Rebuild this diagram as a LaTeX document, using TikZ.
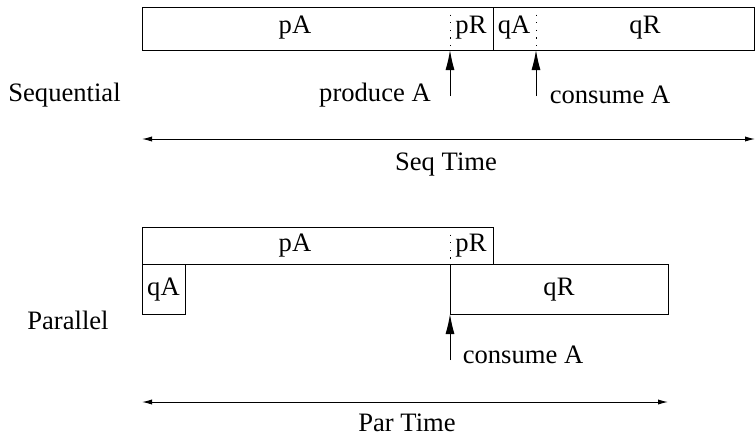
\documentclass[tikz,border=0pt]{standalone}
\usepackage{fontspec}
\setmainfont{Liberation Serif}
\usetikzlibrary{arrows.meta}
\begin{document}
\begin{tikzpicture}[x=0.5pt,y=-0.5pt,
  every node/.style={font=\fontsize{13.3}{16}\selectfont, inner sep=0pt},
  bar/.style={draw, line width=0.5pt},
  split/.style={line width=0.5pt, dash pattern=on 0.6pt off 3.2pt},
  mark arrow/.style={line width=0.5pt, -{Latex[length=10pt,width=4.5pt]}},
  span arrow/.style={line width=0.5pt, {Latex[length=5pt,width=2.6pt]}-{Latex[length=5pt,width=2.6pt]}}]
\useasboundingbox (0,0) rectangle (755,435);

% ---- sequential run ----
\draw[bar] (142,7) rectangle (754,50);
\draw[line width=0.5pt] (493,7) -- (493,50);
\draw[split] (450,7) -- (450,50);
\draw[split] (536,7) -- (536,50);
\node (spA) at (295,28) {pA};
\node (spR) at (471,28) {pR};
\node (sqA) at (514,28) {qA};
\node (sqR) at (645,28) {qR};
\coordinate (sprod) at (450,50);
\coordinate (scons) at (536,50);
\coordinate (sprodfoot) at (450,96);
\coordinate (sconsfoot) at (536,96);
\draw[mark arrow] (sprodfoot) -- (sprod);
\draw[mark arrow] (sconsfoot) -- (scons);
\node (produce) at (375,95) {produce A};
\node (consume) at (610,95) {consume A};
\node (seqlabel) at (64.5,95) {Sequential};
\coordinate (seqL) at (142,139);
\coordinate (seqR) at (755,139);
\draw[span arrow] (seqL) -- (seqR);
\node (seqtime) at (446,165) {Seq Time};

% ---- parallel run ----
\draw[bar] (142,227) rectangle (493,264);
\draw[split] (450,227) -- (450,264);
\node (ppA) at (295,246) {pA};
\node (ppR) at (471,246) {pR};
\draw[bar] (142,264) rectangle (185,314);
\node (pqA) at (163.5,290) {qA};
\draw[bar] (450,264) rectangle (668,314);
\node (pqR) at (559,290) {qR};
\coordinate (pcons) at (450,314);
\coordinate (pconsfoot) at (450,360);
\draw[mark arrow] (pconsfoot) -- (pcons);
\node (pconsume) at (523,355) {consume A};
\node (parlabel) at (68,320) {Parallel};
\coordinate (parL) at (142,402);
\coordinate (parR) at (668,402);
\draw[span arrow] (parL) -- (parR);
\node (partime) at (407,423) {Par Time};
\end{tikzpicture}
\end{document}
